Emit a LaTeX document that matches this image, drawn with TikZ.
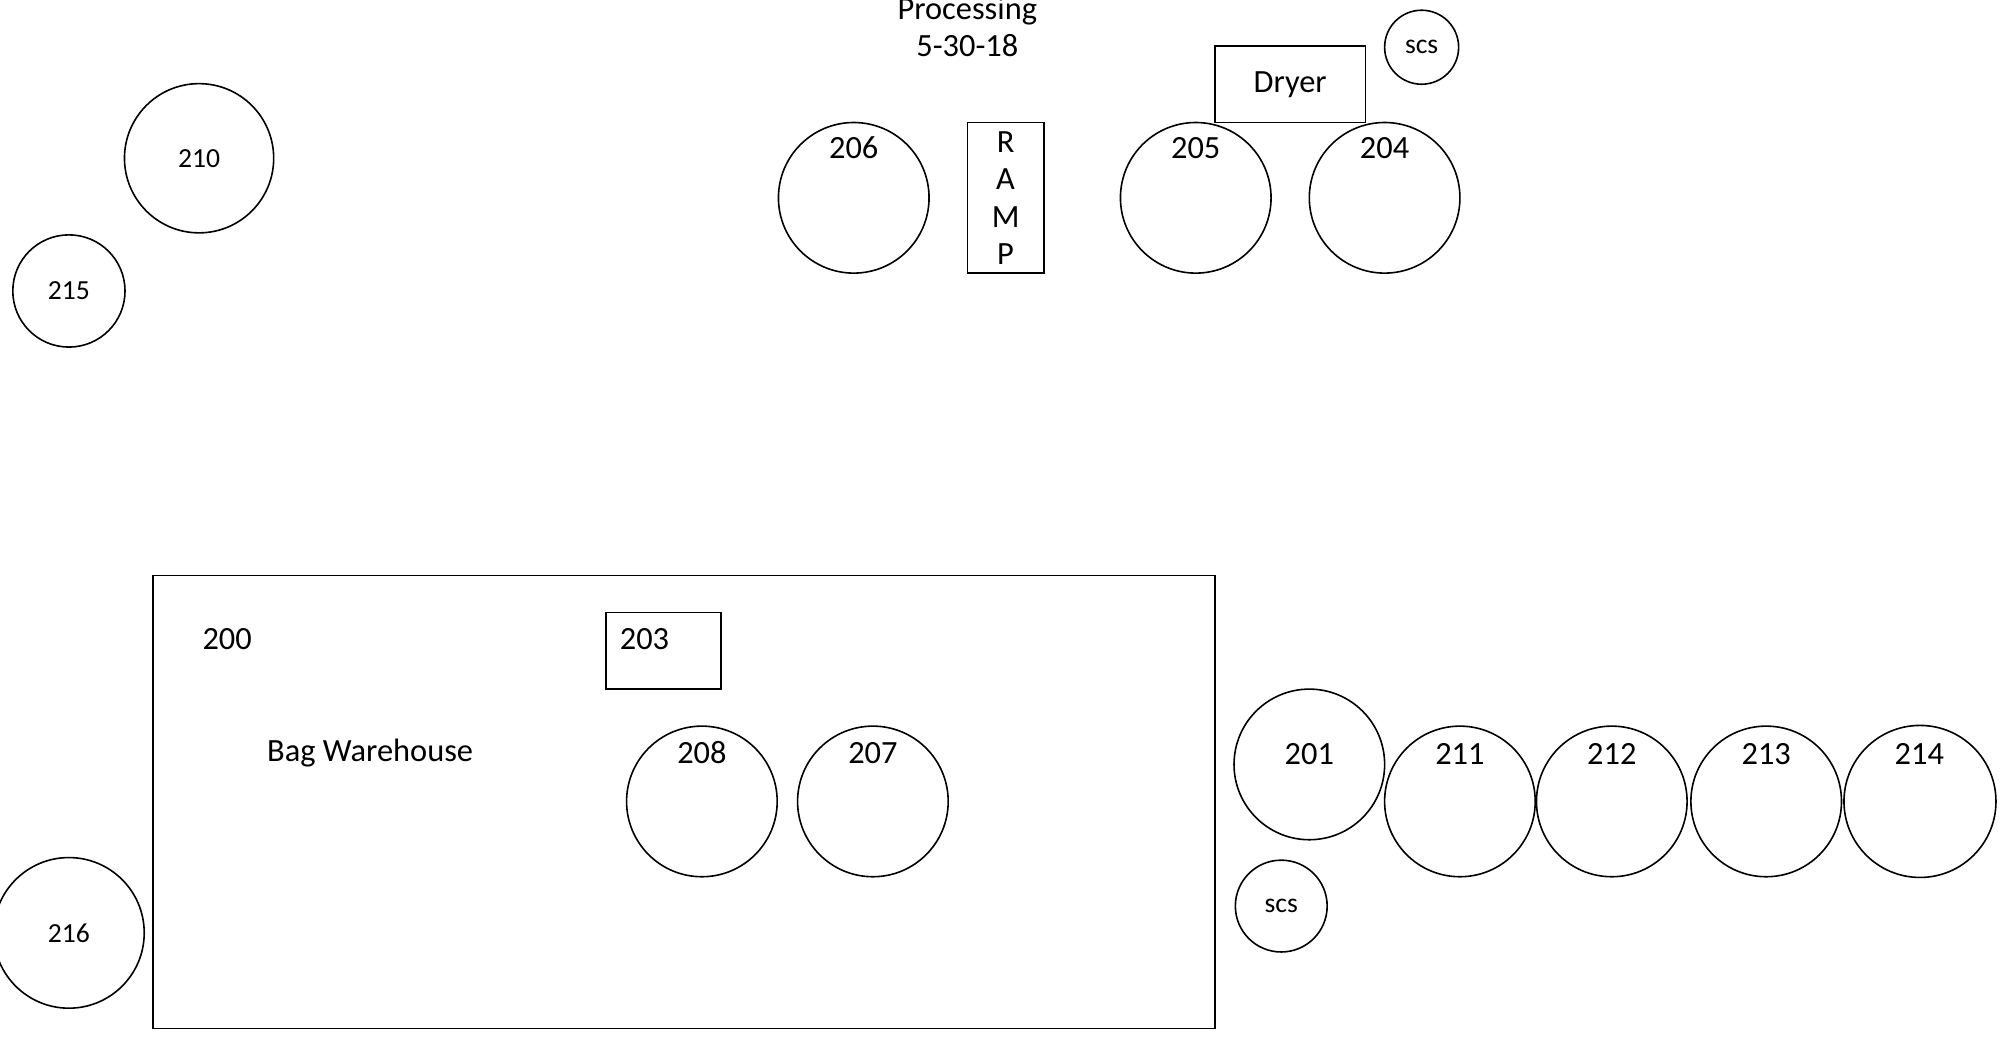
\documentclass[tikz,border=0pt]{standalone}
\usepackage{fontspec}
\setmainfont{Carlito}
\begin{document}
\begin{tikzpicture}[x=0.638pt,y=-0.638pt,
  every node/.style={inner sep=0pt},
  tank/.style={draw, circle, line width=0.8pt},
  box/.style={draw, rectangle, line width=0.8pt},
  big/.style={font=\fontsize{16.2}{18.5}\selectfont},
  small/.style={font=\fontsize{13.8}{16}\selectfont}]
\useasboundingbox (0,0) rectangle (1568,813);
% title
\node[big, align=center] (title) at (758,21) {Processing\\[0pt]5-30-18};
% top row
\node[box, minimum width=75.3pt, minimum height=38.3pt] (dryer) at (1011,66) {};
\node[big] (ldryer) at (1011,66) {Dryer};
\node[tank, minimum size=37pt] (scs1) at (1114,37) {};
\node[small] (lscs1) at (1114,37) {scs};
\node[tank, minimum size=75.3pt] (t206) at (669,155) {};
\node[big] (l206) at (669,116) {206};
\node[box, minimum width=38.3pt, minimum height=75.3pt] (ramp) at (788,155) {};
\node[big] (lr) at (788,111) {R};
\node[big] (la) at (788,140) {A};
\node[big] (lm) at (788,170) {M};
\node[big] (lp) at (788,199) {P};
\node[tank, minimum size=75.3pt] (t205) at (937,155) {};
\node[big] (l205) at (937,116) {205};
\node[tank, minimum size=75.3pt] (t204) at (1085,155) {};
\node[big] (l204) at (1085,116) {204};
% left
\node[tank, minimum size=74.6pt] (t210) at (156,124) {};
\node[small] (l210) at (156,124) {210};
\node[tank, minimum size=56.1pt] (t215) at (54,228) {};
\node[small] (l215) at (54,228) {215};
\node[tank, minimum size=75.3pt] (t216) at (54,731) {};
\node[small] (l216) at (54,731) {216};
% warehouse
\node[box, minimum width=530.8pt, minimum height=226.5pt] (wh) at (536,628.5) {};
\node[big] (l200) at (178,501) {200};
\node[big] (lbw) at (290,590) {Bag Warehouse};
\node[box, minimum width=57.4pt, minimum height=38.3pt] (b203) at (520,510) {};
\node[big] (l203) at (505,501) {203};
\node[tank, minimum size=75.3pt] (t208) at (550,628) {};
\node[big] (l208) at (550,590) {208};
\node[tank, minimum size=75.3pt] (t207) at (684,628) {};
\node[big] (l207) at (684,590) {207};
% right row
\node[tank, minimum size=75.3pt] (t201) at (1026,599) {};
\node[big] (l201) at (1026,591) {201};
\node[tank, minimum size=75.3pt] (t211) at (1144,628) {};
\node[big] (l211) at (1144,591) {211};
\node[tank, minimum size=75.3pt] (t212) at (1263,628) {};
\node[big] (l212) at (1263,591) {212};
\node[tank, minimum size=75.3pt] (t213) at (1384,628) {};
\node[big] (l213) at (1384,591) {213};
\node[tank, minimum size=76pt] (t214) at (1504.5,628) {};
\node[big] (l214) at (1504,591) {214};
\node[tank, minimum size=45.9pt] (scs2) at (1004,710) {};
\node[small] (lscs2) at (1004,710) {scs};
\end{tikzpicture}
\end{document}
